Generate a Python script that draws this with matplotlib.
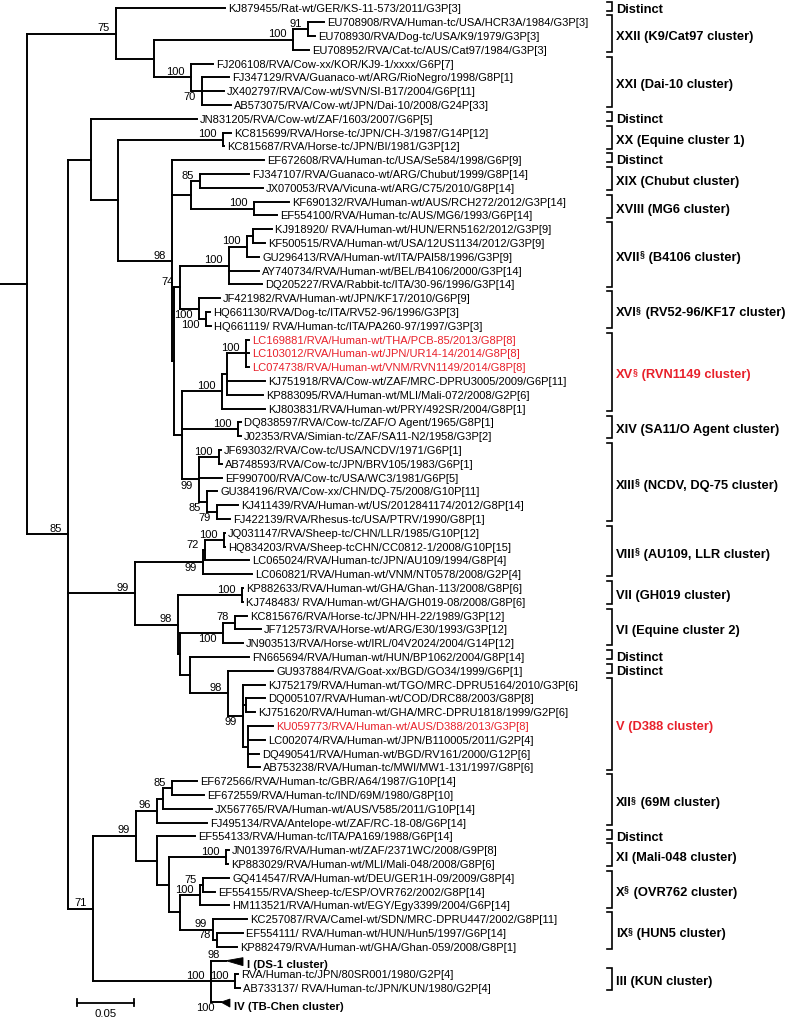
import matplotlib
matplotlib.use("Agg")
import matplotlib.pyplot as plt
from matplotlib import font_manager as fm
from matplotlib.collections import LineCollection
from matplotlib.patches import Polygon

# ---------------- data ----------------
taxa = [
    "KJ879455/Rat-wt/GER/KS-11-573/2011/G3P[3]",
    "EU708908/RVA/Human-tc/USA/HCR3A/1984/G3P[3]",
    "EU708930/RVA/Dog-tc/USA/K9/1979/G3P[3]",
    "EU708952/RVA/Cat-tc/AUS/Cat97/1984/G3P[3]",
    "FJ206108/RVA/Cow-xx/KOR/KJ9-1/xxxx/G6P[7]",
    "FJ347129/RVA/Guanaco-wt/ARG/RioNegro/1998/G8P[1]",
    "JX402797/RVA/Cow-wt/SVN/SI-B17/2004/G6P[11]",
    "AB573075/RVA/Cow-wt/JPN/Dai-10/2008/G24P[33]",
    "JN831205/RVA/Cow-wt/ZAF/1603/2007/G6P[5]",
    "KC815699/RVA/Horse-tc/JPN/CH-3/1987/G14P[12]",
    "KC815687/RVA/Horse-tc/JPN/BI/1981/G3P[12]",
    "EF672608/RVA/Human-tc/USA/Se584/1998/G6P[9]",
    "FJ347107/RVA/Guanaco-wt/ARG/Chubut/1999/G8P[14]",
    "JX070053/RVA/Vicuna-wt/ARG/C75/2010/G8P[14]",
    "KF690132/RVA/Human-wt/AUS/RCH272/2012/G3P[14]",
    "EF554100/RVA/Human-tc/AUS/MG6/1993/G6P[14]",
    "KJ918920/ RVA/Human-wt/HUN/ERN5162/2012/G3P[9]",
    "KF500515/RVA/Human-wt/USA/12US1134/2012/G3P[9]",
    "GU296413/RVA/Human-wt/ITA/PAI58/1996/G3P[9]",
    "AY740734/RVA/Human-wt/BEL/B4106/2000/G3P[14]",
    "DQ205227/RVA/Rabbit-tc/ITA/30-96/1996/G3P[14]",
    "JF421982/RVA/Human-wt/JPN/KF17/2010/G6P[9]",
    "HQ661130/RVA/Dog-tc/ITA/RV52-96/1996/G3P[3]",
    "HQ661119/ RVA/Human-tc/ITA/PA260-97/1997/G3P[3]",
    "LC169881/RVA/Human-wt/THA/PCB-85/2013/G8P[8]",
    "LC103012/RVA/Human-wt/JPN/UR14-14/2014/G8P[8]",
    "LC074738/RVA/Human-wt/VNM/RVN1149/2014/G8P[8]",
    "KJ751918/RVA/Cow-wt/ZAF/MRC-DPRU3005/2009/G6P[11]",
    "KP883095/RVA/Human-wt/MLI/Mali-072/2008/G2P[6]",
    "KJ803831/RVA/Human-wt/PRY/492SR/2004/G8P[1]",
    "DQ838597/RVA/Cow-tc/ZAF/O Agent/1965/G8P[1]",
    "J02353/RVA/Simian-tc/ZAF/SA11-N2/1958/G3P[2]",
    "JF693032/RVA/Cow-tc/USA/NCDV/1971/G6P[1]",
    "AB748593/RVA/Cow-tc/JPN/BRV105/1983/G6P[1]",
    "EF990700/RVA/Cow-tc/USA/WC3/1981/G6P[5]",
    "GU384196/RVA/Cow-xx/CHN/DQ-75/2008/G10P[11]",
    "KJ411439/RVA/Human-wt/US/2012841174/2012/G8P[14]",
    "FJ422139/RVA/Rhesus-tc/USA/PTRV/1990/G8P[1]",
    "JQ031147/RVA/Sheep-tc/CHN/LLR/1985/G10P[12]",
    "HQ834203/RVA/Sheep-tcCHN/CC0812-1/2008/G10P[15]",
    "LC065024/RVA/Human-tc/JPN/AU109/1994/G8P[4]",
    "LC060821/RVA/Human-wt/VNM/NT0578/2008/G2P[4]",
    "KP882633/RVA/Human-wt/GHA/Ghan-113/2008/G8P[6]",
    "KJ748483/ RVA/Human-wt/GHA/GH019-08/2008/G8P[6]",
    "KC815676/RVA/Horse-tc/JPN/HH-22/1989/G3P[12]",
    "JF712573/RVA/Horse-wt/ARG/E30/1993/G3P[12]",
    "JN903513/RVA/Horse-wt/IRL/04V2024/2004/G14P[12]",
    "FN665694/RVA/Human-wt/HUN/BP1062/2004/G8P[14]",
    "GU937884/RVA/Goat-xx/BGD/GO34/1999/G6P[1]",
    "KJ752179/RVA/Human-wt/TGO/MRC-DPRU5164/2010/G3P[6]",
    "DQ005107/RVA/Human-wt/COD/DRC88/2003/G8P[8]",
    "KJ751620/RVA/Human-wt/GHA/MRC-DPRU1818/1999/G2P[6]",
    "KU059773/RVA/Human-wt/AUS/D388/2013/G3P[8]",
    "LC002074/RVA/Human-wt/JPN/B110005/2011/G2P[4]",
    "DQ490541/RVA/Human-wt/BGD/RV161/2000/G12P[6]",
    "AB753238/RVA/Human-tc/MWI/MW1-131/1997/G8P[6]",
    "EF672566/RVA/Human-tc/GBR/A64/1987/G10P[14]",
    "EF672559/RVA/Human-tc/IND/69M/1980/G8P[10]",
    "JX567765/RVA/Human-wt/AUS/V585/2011/G10P[14]",
    "FJ495134/RVA/Antelope-wt/ZAF/RC-18-08/G6P[14]",
    "EF554133/RVA/Human-tc/ITA/PA169/1988/G6P[14]",
    "JN013976/RVA/Human-wt/ZAF/2371WC/2008/G9P[8]",
    "KP883029/RVA/Human-wt/MLI/Mali-048/2008/G8P[6]",
    "GQ414547/RVA/Human-wt/DEU/GER1H-09/2009/G8P[4]",
    "EF554155/RVA/Sheep-tc/ESP/OVR762/2002/G8P[14]",
    "HM113521/RVA/Human-wt/EGY/Egy3399/2004/G6P[14]",
    "KC257087/RVA/Camel-wt/SDN/MRC-DPRU447/2002/G8P[11]",
    "EF554111/ RVA/Human-wt/HUN/Hun5/1997/G6P[14]",
    "KP882479/RVA/Human-wt/GHA/Ghan-059/2008/G8P[1]",
    "I (DS-1 cluster)",
    "RVA/Human-tc/JPN/80SR001/1980/G2P[4]",
    "AB733137/ RVA/Human-tc/JPN/KUN/1980/G2P[4]",
    "IV (TB-Chen cluster)",
]

# distance from the root stub to each tip (substitutions/site)
tip_depth = [
    0.1984, 0.2857, 0.2778, 0.2725, 0.1878, 0.2019, 0.1975, 0.2037,
    0.1737, 0.2037, 0.1975, 0.2328, 0.2196, 0.2319, 0.2549, 0.2443,
    0.2399, 0.2337, 0.2284, 0.2284, 0.2310, 0.1940, 0.1852, 0.1861,
    0.2196, 0.2196, 0.2196, 0.2337, 0.2319, 0.2337, 0.2125, 0.2125,
    0.1949, 0.1958, 0.1958, 0.1914, 0.2099, 0.2028, 0.1984, 0.1984,
    0.2196, 0.2222, 0.2143, 0.2143, 0.2178, 0.2302, 0.2143, 0.2196,
    0.2407, 0.2337, 0.2337, 0.2249, 0.2407, 0.2337, 0.2284, 0.2293,
    0.1737, 0.1799, 0.1869, 0.1825, 0.1720, 0.2019, 0.2011, 0.2019,
    0.1896, 0.2019, 0.2178, 0.2143, 0.2090, 0.1993, 0.2099, 0.2116,
    0.1949,
]

red_taxa = [24, 25, 26, 52]

# collapsed clades (drawn as wedges)
collapsed_rows = [69, 72]
collapsed_end = [0.2143, 0.2028]
collapsed_support = ["98", "100"]

# internal nodes
node_name = ["root", "A", "B", "C", "D", "E", "F", "H", "I", "K", "Eq1", "L",
             "ChMG", "Chub", "MG6", "Q", "P", "T", "U", "S", "V", "W", "R",
             "X", "Z", "Y", "AA", "AB", "AC", "AD", "AE", "AF", "AG", "AI",
             "AJ", "AH", "AK", "AN", "AL", "AO", "AM", "AP", "AQ", "AR", "AT",
             "BA", "BB", "BE", "BG", "BF", "BD", "BH", "BI", "BJ", "BK", "BM",
             "BL", "BN", "BC", "BP"]
node_depth = [0.0238, 0.1023, 0.1354, 0.2584, 0.2716, 0.1684, 0.1781, 0.0600,
              0.0802, 0.1041, 0.1966, 0.1517, 0.1684, 0.1764, 0.2240, 0.1530,
              0.1587, 0.2019, 0.2178, 0.2231, 0.1755, 0.1817, 0.1605, 0.1958,
              0.2002, 0.2169, 0.2099, 0.1755, 0.1931, 0.1825, 0.1914, 0.1190,
              0.1790, 0.1808, 0.1975, 0.1570, 0.2134, 0.1587, 0.1966, 0.2072,
              0.1675, 0.2011, 0.2143, 0.2169, 0.2187, 0.0820, 0.1199, 0.1384,
              0.1437, 0.1517, 0.1384, 0.1490, 0.1993, 0.1587, 0.1764, 0.1786,
              0.1878, 0.1914, 0.1861, 0.2072]
node_children = [
    ["A", "H"], [0, "B"], ["C", "E"], ["D", 3], [1, 2], [4, "F"], [5, 6, 7],
    ["I", "AF", "BA"], [8, "K"], ["Eq1", "L"], [9, 10], [11, "ChMG", "Q"],
    ["Chub", "MG6"], [12, 13], [14, 15], ["P", "R"], ["T", "V"],
    ["U", 19, 20], ["S", 18], [16, 17], [21, "W"], [22, 23],
    ["X", "AA", "AB"], ["Z", 29], ["Y", 27, 28], [24, 25, 26], [30, 31],
    ["AC", 34, "AD"], [32, 33], [35, "AE"], [36, 37], ["AG", "AH"],
    ["AI", 41], ["AJ", 40], [38, 39], ["AK", "AN"], [42, 43], ["AL", "AM"],
    ["AO", 46], [44, 45], [47, "AP"], [48, "AQ"], [49, "AR", "AT"], [50, 51],
    [52, 53, 54, 55], ["BB", "BC"], ["BE", "BD"], ["BG", 59], ["BF", 58],
    [56, 57], [60, "BH"], ["BI", "BJ"], [61, 62], ["BK", "BL"], ["BM", 65],
    [63, 64], [66, "BN"], [67, 68], [69, "BP", 72], [70, 71],
]
node_support = ["", "75", "", "100", "91", "100", "70", "85", "", "", "100",
                "98", "", "85", "100", "", "74", "100", "100", "", "100",
                "100", "", "100", "", "100", "100", "99", "100", "85", "79",
                "99", "99", "72", "100", "98", "100", "", "100", "78", "",
                "98", "99", "", "", "71", "99", "96", "", "85", "", "", "100",
                "", "100", "75", "99", "78", "100", "100"]

cluster_label = ["Distinct", "XXII (K9/Cat97 cluster)", "XXI (Dai-10 cluster)",
                 "Distinct", "XX (Equine cluster 1)", "Distinct",
                 "XIX (Chubut cluster)", "XVIII (MG6 cluster)",
                 "XVII§ (B4106 cluster)", "XVI§ (RV52-96/KF17 cluster)",
                 "XV§ (RVN1149 cluster)", "XIV (SA11/O Agent cluster)",
                 "XIII§ (NCDV, DQ-75 cluster)", "VIII§ (AU109, LLR cluster)",
                 "VII (GH019 cluster)", "VI (Equine cluster 2)", "Distinct",
                 "Distinct", "V (D388 cluster)", "XII§ (69M cluster)",
                 "Distinct", "XI (Mali-048 cluster)", "X§ (OVR762 cluster)",
                 "IX§ (HUN5 cluster)", "III (KUN cluster)"]
cluster_first = [0, 1, 4, 8, 9, 11, 12, 14, 16, 21, 24, 30, 32, 38, 42, 44,
                 47, 48, 49, 56, 60, 61, 63, 66, 70]
cluster_last = [0, 3, 7, 8, 10, 11, 13, 15, 20, 23, 29, 31, 37, 41, 43, 46,
                47, 48, 55, 59, 60, 62, 65, 68, 71]
cluster_red = ["XV§ (RVN1149 cluster)", "V (D388 cluster)"]

scale_length = 0.05
scale_text = "0.05"

# ---------------- styling ----------------
support_below = {"F", "V", "W", "AB", "AD", "AE", "AG", "AL", "AQ"}
collapsed_below = {72}
RED = "#E8202A"

installed = {f.name for f in fm.fontManager.ttflist}
if "Liberation Sans Narrow" in installed:
    LEAF_FONT, WS = "Liberation Sans Narrow", 1.0
else:
    LEAF_FONT, WS = "Liberation Sans", 0.82
BOLD_FONT = "Liberation Sans"

W_PX, H_PX = 787, 1019
PX_PER_UNIT = 1134.0
ROW_PX = 13.8
TOP_PX = 8.5
px = 1.0 / PX_PER_UNIT
rowpx = 1.0 / ROW_PX

fig = plt.figure(figsize=(W_PX / 100, H_PX / 100), dpi=100)
ax = fig.add_axes([0, 0, 1, 1])
ax.set_xlim(0, W_PX / PX_PER_UNIT)
ax.set_ylim((H_PX - TOP_PX) / ROW_PX, -TOP_PX / ROW_PX)
ax.axis("off")

nodes = {n: (d, c, s) for n, d, c, s in zip(node_name, node_depth, node_children, node_support)}
ycache = {}


def y_of(c):
    if isinstance(c, int):
        return float(c)
    if c not in ycache:
        ys = [y_of(k) for k in nodes[c][1]]
        ycache[c] = (min(ys) + max(ys)) / 2.0
    return ycache[c]


def x_of(c):
    if isinstance(c, int):
        return tip_depth[c]
    return nodes[c][0]


LW = 1.4
segs = []
for n, (d, ch, s) in nodes.items():
    ys = [y_of(k) for k in ch]
    segs.append([(d, min(ys)), (d, max(ys))])
    for k in ch:
        segs.append([(d, y_of(k)), (x_of(k), y_of(k))])
ry = y_of("root")
segs.append([(0.0, ry), (nodes["root"][0], ry)])
ax.add_collection(LineCollection(segs, colors="black", linewidths=LW, capstyle="projecting"))

SUP_FS = 9.8 * WS


def support_label(x, y, s, below):
    if below:
        ax.annotate(s, xy=(x, y), xytext=(-4.5, -0.8), textcoords="offset points",
                    ha="right", va="top", fontsize=SUP_FS, family=LEAF_FONT)
    else:
        ax.annotate(s, xy=(x, y), xytext=(-4.5, 1.6), textcoords="offset points",
                    ha="right", va="baseline", fontsize=SUP_FS, family=LEAF_FONT)


for n, (d, ch, s) in nodes.items():
    if s:
        support_label(d, y_of(n), s, n in support_below)

# collapsed wedges
for r, end, s in zip(collapsed_rows, collapsed_end, collapsed_support):
    a = tip_depth[r]
    ax.add_patch(Polygon([(a, r), (end, r - 0.22), (end, r + 0.36)], closed=True,
                         fc="black", ec="black", lw=0.6))
    support_label(a, r, s, r in collapsed_below)

# leaf labels
for i, name in enumerate(taxa):
    if i in collapsed_rows:
        x = collapsed_end[collapsed_rows.index(i)]
        ax.annotate(name, xy=(x, i + 0.25), xytext=(3.0, 0), textcoords="offset points",
                    ha="left", va="center_baseline", fontsize=10 * WS,
                    family=LEAF_FONT, weight="bold")
    else:
        ax.annotate(name, xy=(tip_depth[i], i), xytext=(2.2, 0), textcoords="offset points",
                    ha="left", va="center_baseline", fontsize=9.75 * WS,
                    family=LEAF_FONT, color=RED if i in red_taxa else "black")

# cluster brackets
BR_X = 612 * px
TICK = 5 * px
LAB_X = 616 * px
CL_FS = 9.3
for lab, f, l in zip(cluster_label, cluster_first, cluster_last):
    col = RED if lab in cluster_red else "black"
    top, bot = f - 0.5, l + 0.15
    ax.plot([BR_X - TICK, BR_X, BR_X, BR_X - TICK], [top, top, bot, bot],
            color="black", lw=1.2, solid_joinstyle="miter")
    base_y = (top + bot) / 2 + 6.5 * rowpx
    kw = dict(fontsize=CL_FS, family=BOLD_FONT, weight="bold", color=col)
    if "§" in lab:
        head, rest = lab.split("§", 1)
        t1 = ax.text(LAB_X, base_y, head, ha="left", va="baseline", **kw)
        t2 = ax.annotate("§", xy=(1, base_y), xycoords=(t1, "data"), xytext=(-0.6, 3.2),
                         textcoords="offset points", ha="left", va="baseline",
                         fontsize=6.2, family=BOLD_FONT, weight="bold", color=col)
        ax.annotate(rest, xy=(1, base_y), xycoords=(t2, "data"), xytext=(0.6, 0),
                    textcoords="offset points", ha="left", va="baseline", **kw)
    else:
        ax.text(LAB_X, base_y, lab, ha="left", va="baseline", **kw)

# scale bar
sb_x0 = 77 * px
sb_y = (1003 - TOP_PX) * rowpx
ax.plot([sb_x0, sb_x0 + scale_length], [sb_y, sb_y], color="black", lw=1.3)
for xx in (sb_x0, sb_x0 + scale_length):
    ax.plot([xx, xx], [sb_y - 3.5 * rowpx, sb_y + 3.5 * rowpx], color="black", lw=1.3)
ax.text(sb_x0 + scale_length / 2, sb_y + 11 * rowpx, scale_text, ha="center",
        va="center", fontsize=10 * WS, family=LEAF_FONT)

fig.savefig("out.png", dpi=100)
